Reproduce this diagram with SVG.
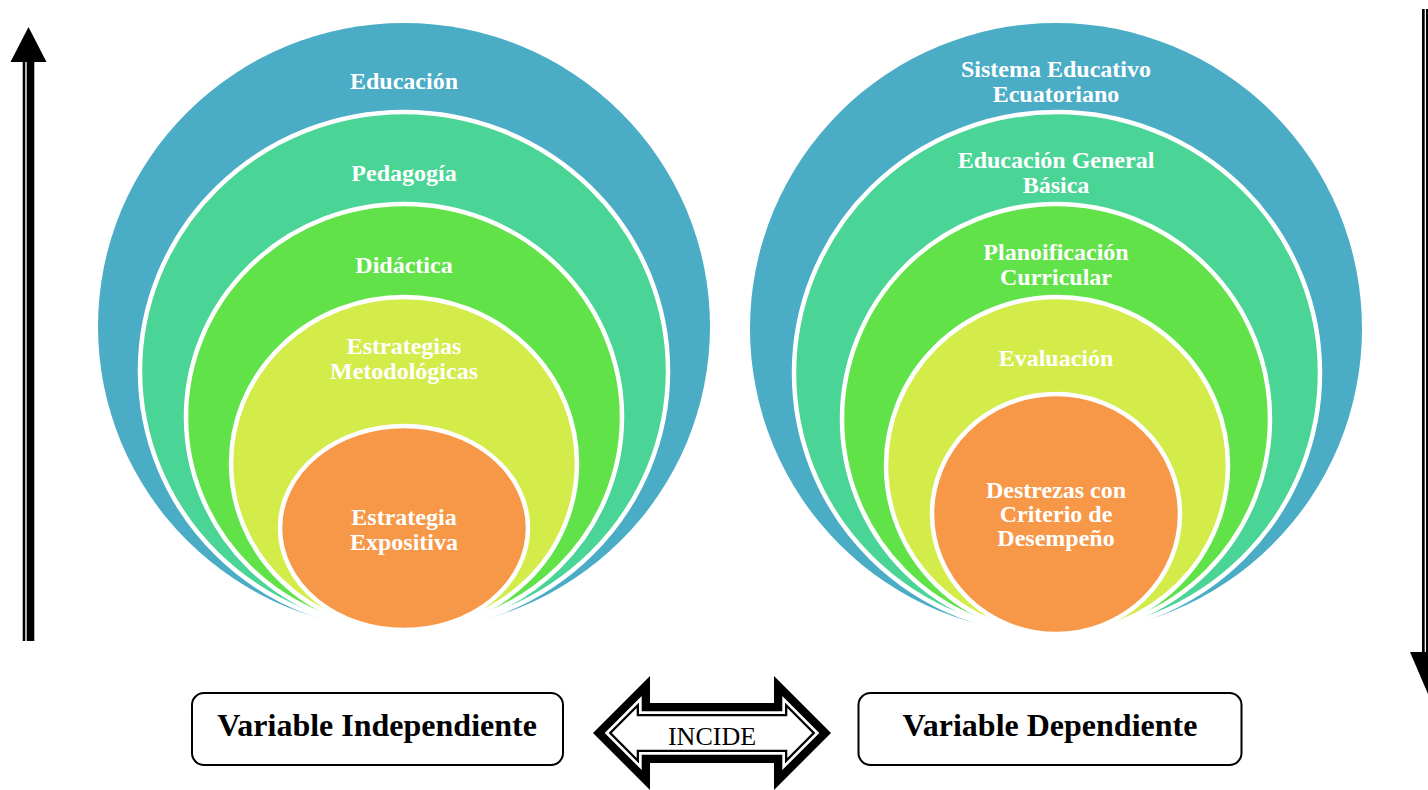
<svg xmlns="http://www.w3.org/2000/svg" width="1428" height="790" viewBox="0 0 1428 790">
<style>
.ring{stroke:#fff;stroke-width:4.5}
.c1{fill:#4BACC6}
.c2{fill:#4AD495}
.c3{fill:#62E249}
.c4{fill:#D4EC49}
.c5{fill:#F79748}
.lbl{font-family:"Liberation Serif","Times New Roman",serif;font-weight:bold;font-size:24px;fill:#fff;text-anchor:middle}
.box{fill:#fff;stroke:#000;stroke-width:2}
.boxt{font-family:"Liberation Serif","Times New Roman",serif;font-weight:bold;font-size:32px;fill:#000;text-anchor:middle}
.inc{font-family:"Liberation Serif","Times New Roman",serif;font-size:26px;fill:#000;text-anchor:middle}
</style>
<rect width="1428" height="790" fill="#fff"/>

<g id="connectors">
  <g id="arrow-up">
    <rect x="22.7" y="60" width="11.6" height="581" fill="#000"/>
    <rect x="25.3" y="60" width="1.4" height="581" fill="#fff"/>
    <polygon points="28.5,27 46.5,62 10.5,62" fill="#000"/>
  </g>
  <g id="arrow-down">
    <rect x="1422" y="9" width="11.6" height="645" fill="#000"/>
    <rect x="1424.7" y="9" width="1.4" height="645" fill="#000"/>
    <rect x="1424.7" y="9" width="1.3" height="645" fill="#fff"/>
    <polygon points="1410,652 1446,652 1428,694" fill="#000"/>
  </g>
  <g id="incide">
    <polygon points="593,733 650,676 650,703 774,703 774,676 831,733 774,790 774,763 650,763 650,790" fill="#000"/>
    <polygon points="604.7,733 641.7,696 641.7,711.3 782.3,711.3 782.3,696 819.3,733 782.3,770 782.3,754.7 641.7,754.7 641.7,770" fill="#fff"/>
    <polygon points="608.6,733 639,702.6 639,714 785,714 785,702.6 815.4,733 785,763.4 785,752 639,752 639,763.4" fill="#000"/>
    <polygon points="611.8,733 636.7,708.1 636.7,716.3 787.3,716.3 787.3,708.1 812.2,733 787.3,757.9 787.3,749.7 636.7,749.7 636.7,757.9" fill="#fff"/>
    <text class="inc" x="712" y="745">INCIDE</text>
  </g>
</g>

<g id="left-target">
  <g id="n-educacion"><ellipse class="c1" cx="404" cy="326.5" rx="306" ry="303.5"/><text class="lbl" x="404" y="89">Educación</text></g>
  <g id="n-pedagogia"><ellipse class="ring c2" cx="404" cy="371" rx="264" ry="259"/><text class="lbl" x="404" y="181">Pedagogía</text></g>
  <g id="n-didactica"><ellipse class="ring c3" cx="404" cy="417" rx="218" ry="213"/><text class="lbl" x="404" y="273">Didáctica</text></g>
  <g id="n-estrategias"><ellipse class="ring c4" cx="404" cy="463.5" rx="173" ry="166.5"/><text class="lbl" x="404" y="354">Estrategias</text><text class="lbl" x="404" y="379">Metodológicas</text></g>
  <g id="n-expositiva"><ellipse class="ring c5" cx="404" cy="528" rx="124" ry="102"/><text class="lbl" x="404" y="525">Estrategia</text><text class="lbl" x="404" y="550">Expositiva</text></g>
</g>

<g id="right-target">
  <g id="n-sistema"><ellipse class="c1" cx="1056" cy="328.5" rx="306" ry="305.5"/><text class="lbl" x="1056" y="77">Sistema Educativo</text><text class="lbl" x="1056" y="102">Ecuatoriano</text></g>
  <g id="n-egb"><ellipse class="ring c2" cx="1057" cy="373" rx="263" ry="261"/><text class="lbl" x="1056" y="168">Educación General</text><text class="lbl" x="1056" y="193">Básica</text></g>
  <g id="n-planificacion"><ellipse class="ring c3" cx="1056" cy="419" rx="214" ry="215"/><text class="lbl" x="1056" y="260">Planoificación</text><text class="lbl" x="1056" y="285">Curricular</text></g>
  <g id="n-evaluacion"><ellipse class="ring c4" cx="1057" cy="465.5" rx="171" ry="168.5"/><text class="lbl" x="1056" y="366">Evaluación</text></g>
  <g id="n-destrezas"><ellipse class="ring c5" cx="1056" cy="514" rx="124" ry="120"/><text class="lbl" x="1056" y="498">Destrezas con</text><text class="lbl" x="1056" y="522">Criterio de</text><text class="lbl" x="1056" y="546">Desempeño</text></g>
</g>

<g id="n-var-indep"><rect class="box" x="192" y="693" width="371" height="72" rx="12"/><text class="boxt" x="377" y="736">Variable Independiente</text></g>
<g id="n-var-dep"><rect class="box" x="858.5" y="693" width="383" height="72" rx="12"/><text class="boxt" x="1050" y="736">Variable Dependiente</text></g>
</svg>
